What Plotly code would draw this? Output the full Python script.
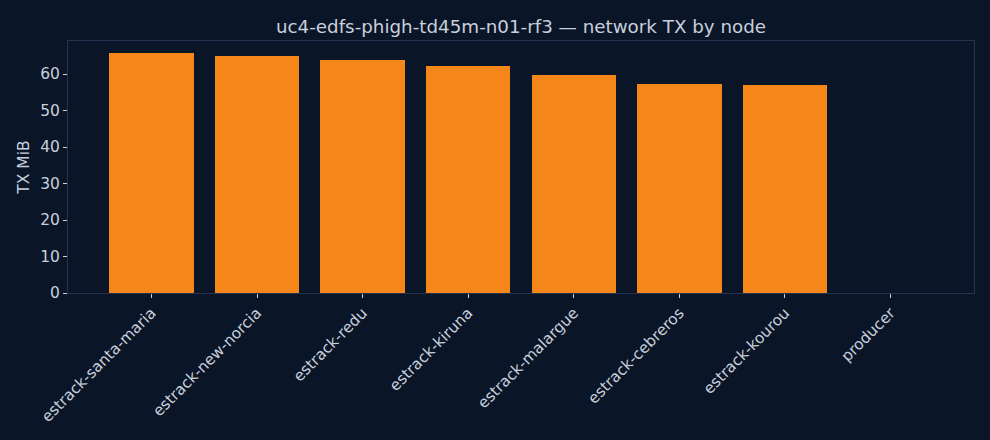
import plotly.graph_objects as go

nodes = [
    "estrack-santa-maria",
    "estrack-new-norcia",
    "estrack-redu",
    "estrack-kiruna",
    "estrack-malargue",
    "estrack-cebreros",
    "estrack-kourou",
    "producer",
]
tx_mib = [65.8, 64.9, 63.8, 62.2, 59.7, 57.3, 57.0, 0.0]

BG = "#0b1528"
TEXT = "#c8d0dc"
SPINE = "#243350"
ORANGE = "#f5871a"

fig = go.Figure(
    go.Bar(
        x=list(range(len(nodes))),
        y=tx_mib,
        width=0.8,
        marker=dict(color=ORANGE, line=dict(width=0)),
    )
)

fig.update_layout(
    width=990,
    height=440,
    paper_bgcolor=BG,
    plot_bgcolor=BG,
    font=dict(family="DejaVu Sans", color=TEXT, size=15.5),
    margin=dict(l=68, r=16, t=41, b=147),
    showlegend=False,
    title=dict(
        text="uc4-edfs-phigh-td45m-n01-rf3 — network TX by node",
        x=0.5263, xanchor="center",
        y=1 - 27 / 440, yanchor="middle",
        font=dict(size=18.3, color=TEXT),
    ),
    bargap=0,
)

fig.update_xaxes(
    tickmode="array",
    tickvals=list(range(len(nodes))),
    ticktext=nodes,
    tickangle=-45,
    range=[-0.79, 7.79],
    showgrid=False,
    zeroline=False,
    showline=True,
    linecolor=SPINE,
    linewidth=1,
    mirror=True,
    ticks="outside",
    ticklen=4,
    tickcolor=TEXT,
    tickfont=dict(size=15.3, color=TEXT),
)

fig.update_yaxes(
    title=dict(text="TX MiB", font=dict(size=15.5, color=TEXT), standoff=6),
    range=[0, 69.05],
    tickvals=[0, 10, 20, 30, 40, 50, 60],
    showgrid=False,
    zeroline=False,
    showline=True,
    linecolor=SPINE,
    linewidth=1,
    mirror=True,
    ticks="outside",
    ticklen=4,
    tickcolor=TEXT,
    tickfont=dict(size=15.5, color=TEXT),
)

# the page body has a default margin; remove it so the figure fills the window
page_fix = (
    "document.body.style.margin='0';"
    "document.body.style.background='" + BG + "';"
)

fig.write_html("out.html", post_script=page_fix,
               config={"displayModeBar": False})
